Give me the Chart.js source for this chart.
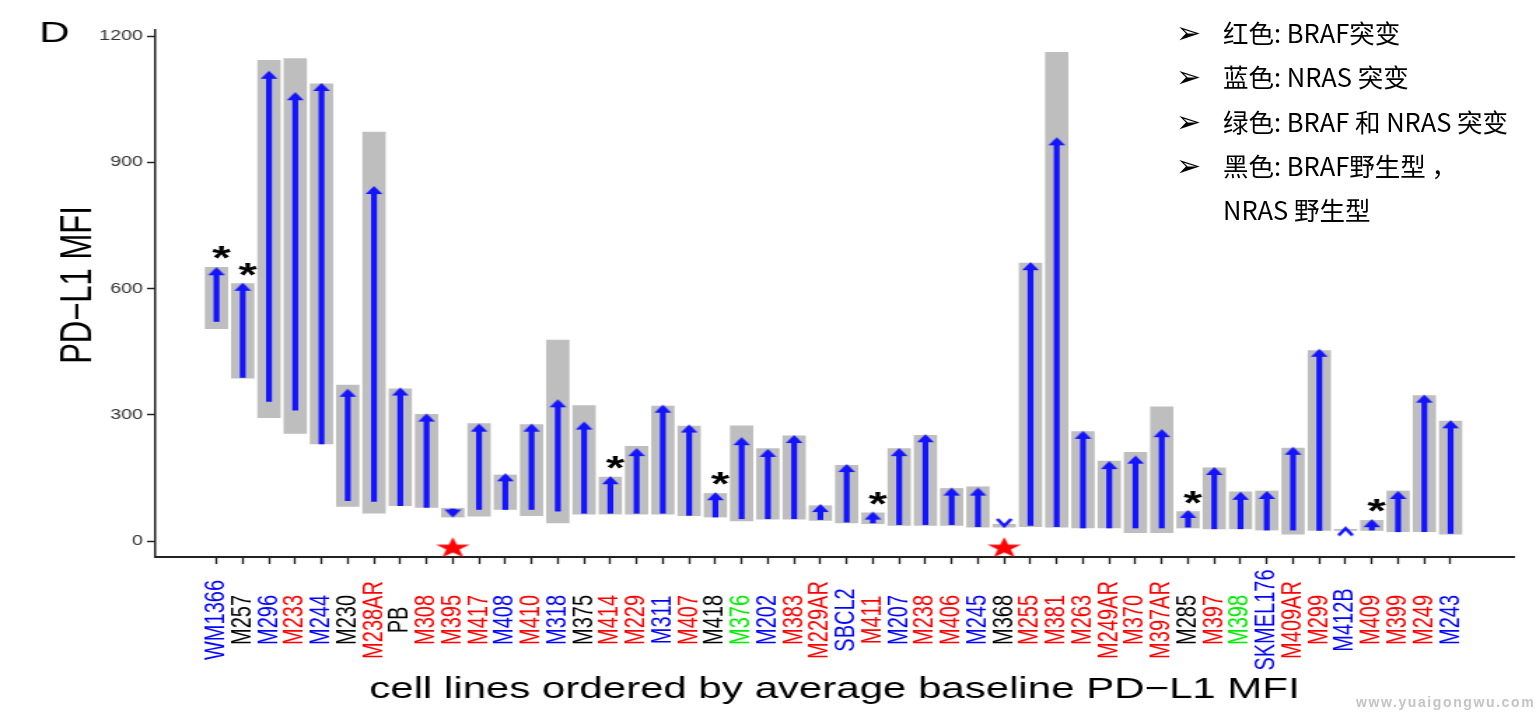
<!DOCTYPE html>
<html>
<head>
<meta charset="utf-8">
<script src="https://cdn.jsdelivr.net/npm/chart.js@4.4.1/dist/chart.umd.min.js"></script>
<style>
  html, body { margin: 0; padding: 0; background: #fff; overflow: hidden; }
  #wrap { position: relative; width: 1536px; height: 716px; }
  /* the figure is stretched horizontally in the original, so is the canvas */
  #chart { position: absolute; left: 0; top: 0; transform: scaleX(1.40018); transform-origin: 0 0; }
  .note { position: absolute; left: 1223px; font-family: "Noto Sans CJK SC", sans-serif; font-size: 25.5px; color: #000; white-space: nowrap; line-height: 30px; }
  .bullet { position: absolute; left: 1176px; font-family: "DejaVu Sans", sans-serif; font-size: 30px; color: #000; line-height: 30px; }
  #mark { position: absolute; left: 1356px; top: 694px; font: bold 14px "Liberation Sans", sans-serif; letter-spacing: 1.6px; color: #c4c4c4; }
</style>
</head>
<body>
<div id="wrap">
  <canvas id="chart" width="1097" height="716"></canvas>
  <div class="bullet" style="top:18px">➢</div><div class="note" style="top:17px">红色: BRAF突变</div>
  <div class="bullet" style="top:62px">➢</div><div class="note" style="top:61px">蓝色: NRAS 突变</div>
  <div class="bullet" style="top:107px">➢</div><div class="note" style="top:106px">绿色: BRAF 和 NRAS 突变</div>
  <div class="bullet" style="top:151px">➢</div><div class="note" style="top:150px">黑色: BRAF野生型 ，</div>
  <div class="note" style="top:194px">NRAS 野生型</div>
  <div id="mark">www.yuaigongwu.com</div>
</div>
<script>
// cell lines, left to right
const cellLines = ['WM1366', 'M257', 'M296', 'M233', 'M244', 'M230', 'M238AR', 'PB', 'M308', 'M395',
  'M417', 'M408', 'M410', 'M318', 'M375', 'M414', 'M229', 'M311', 'M407', 'M418',
  'M376', 'M202', 'M383', 'M229AR', 'SBCL2', 'M411', 'M207', 'M238', 'M406', 'M245',
  'M368', 'M255', 'M381', 'M263', 'M249AR', 'M370', 'M397AR', 'M285', 'M397', 'M398',
  'SKMEL176', 'M409AR', 'M299', 'M412B', 'M409', 'M399', 'M249', 'M243'];
const mutation = ['NRAS', 'WT', 'NRAS', 'BRAF', 'NRAS', 'WT', 'BRAF', 'WT', 'BRAF', 'BRAF',
  'BRAF', 'NRAS', 'BRAF', 'NRAS', 'WT', 'BRAF', 'BRAF', 'NRAS', 'BRAF', 'WT',
  'BOTH', 'NRAS', 'BRAF', 'BRAF', 'NRAS', 'BRAF', 'NRAS', 'BRAF', 'BRAF', 'NRAS',
  'WT', 'BRAF', 'BRAF', 'BRAF', 'BRAF', 'BRAF', 'BRAF', 'WT', 'BRAF', 'BOTH',
  'NRAS', 'BRAF', 'BRAF', 'NRAS', 'BRAF', 'BRAF', 'BRAF', 'NRAS'];
// gray range bars
const grayLow = [505, 387, 293, 256, 231, 82, 66, 84, 80, 57,
  59, 75, 60, 43, 64, 64, 64, 64, 60, 57,
  48, 52, 52, 49, 43, 41, 37, 37, 37, 33,
  33, 34, 33, 31, 31, 20, 20, 31, 29, 29,
  26, 16, 25, 25, 25, 22, 22, 16];
const grayHigh = [651, 612, 1143, 1147, 1087, 371, 972, 362, 301, 78,
  279, 157, 277, 478, 322, 152, 225, 321, 273, 113,
  274, 220, 250, 84, 180, 67, 220, 251, 125, 129,
  40, 661, 1162, 260, 190, 211, 319, 70, 174, 117,
  119, 221, 453, 28, 49, 119, 346, 285];
// blue arrows: baseline -> treated
const mfiBefore = [522, 389, 332, 311, 231, 96, 94, 84, 80, 76,
  75, 75, 75, 71, 66, 66, 66, 66, 61, 57,
  53, 53, 53, 51, 45, 43, 39, 39, 39, 34,
  50, 37, 34, 31, 31, 31, 31, 33, 29, 29,
  26, 26, 25, 14, 26, 22, 22, 18];
const mfiAfter = [651, 614, 1118, 1067, 1089, 362, 844, 365, 303, 56,
  279, 161, 279, 337, 284, 154, 221, 324, 277, 116,
  247, 219, 252, 88, 183, 70, 221, 254, 127, 127,
  36, 663, 960, 262, 190, 203, 266, 74, 176, 117,
  119, 224, 457, 30, 52, 119, 348, 287];
const yTicks = [0, 300, 600, 900, 1200];
const starCells = ['M395', 'M368'];
const starLevel = -17;
const sigCells = ['WM1366', 'M257', 'M414', 'M418', 'M411', 'M285', 'M409'];
const openHeads = ['M368', 'M412B'];

const groupColor = { BRAF: '#ff0000', NRAS: '#0000ff', BOTH: '#00ee00', WT: '#000000' };
const BLUE = '#1414ff';

// arrow heads, tip at the canvas centre
function makeHead(up, open) {
  const w = 12, h = 8;
  const c = document.createElement('canvas');
  c.width = w + 4; c.height = 2 * h + 4;
  const g = c.getContext('2d');
  const cx = c.width / 2, cy = c.height / 2;
  const by = up ? cy + h : cy - h;
  g.beginPath();
  if (open) {
    g.moveTo(cx - w / 2 + 1, up ? cy + h - 1 : cy - h + 1);
    g.lineTo(cx, cy);
    g.lineTo(cx + w / 2 - 1, up ? cy + h - 1 : cy - h + 1);
    g.strokeStyle = BLUE; g.lineWidth = 2.6; g.stroke();
  } else {
    g.moveTo(cx, cy);
    g.lineTo(cx + w / 2, by);
    g.lineTo(cx - w / 2, by);
    g.closePath();
    g.fillStyle = BLUE; g.fill();
  }
  return c;
}
const heads = {
  up: makeHead(true, false), down: makeHead(false, false),
  upOpen: makeHead(true, true), downOpen: makeHead(false, true)
};

function makeStar() {
  const c = document.createElement('canvas');
  c.width = 28; c.height = 26;
  const g = c.getContext('2d');
  g.translate(c.width / 2, c.height / 2);
  g.scale(1.15, 1);
  g.beginPath();
  for (let k = 0; k < 10; k++) {
    const r = k % 2 ? 4.3 : 11;
    const a = -Math.PI / 2 + k * Math.PI / 5;
    g.lineTo(r * Math.cos(a), r * Math.sin(a));
  }
  g.closePath();
  g.fillStyle = '#ff0000';
  g.fill();
  return c;
}
const starImg = makeStar();

const grayData = cellLines.map((_, i) => ({ x: i, y: [grayLow[i], grayHigh[i]] }));
const shaftData = [];
cellLines.forEach((_, i) => {
  const d = mfiAfter[i] - mfiBefore[i];
  if (Math.abs(d) > 19) shaftData.push({ x: i, y: [mfiBefore[i], mfiAfter[i] - Math.sign(d) * 8] });
});
const headData = cellLines.map((_, i) => ({ x: i, y: mfiAfter[i] }));
const headStyles = cellLines.map((name, i) => {
  const up = mfiAfter[i] >= mfiBefore[i];
  const open = openHeads.includes(name);
  return heads[(up ? 'up' : 'down') + (open ? 'Open' : '')];
});
const starData = starCells.map(name => ({ x: cellLines.indexOf(name), y: starLevel }));

const annotations = {
  id: 'annotations',
  afterDraw(chart) {
    const { ctx, scales: { x, y } } = chart;
    ctx.save();
    ctx.fillStyle = '#000';
    ctx.font = '30px "Liberation Sans"';
    ctx.textBaseline = 'alphabetic';
    ctx.fillText('D', 28, 42);

    ctx.save();
    ctx.translate(65, 285);
    ctx.rotate(-Math.PI / 2);
    ctx.textAlign = 'center';
    ctx.font = '31px "Liberation Sans"';
    ctx.fillText('PD−L1 MFI', 0, 0);
    ctx.restore();

    // coloured cell line names, centred under each tick
    ctx.font = '20px "Liberation Sans"';
    cellLines.forEach((name, i) => {
      ctx.save();
      ctx.translate(x.getPixelForValue(i), 620);
      ctx.rotate(-Math.PI / 2);
      ctx.textAlign = 'center';
      ctx.textBaseline = 'middle';
      ctx.fillStyle = groupColor[mutation[i]];
      ctx.fillText(name, 0, 0);
      ctx.restore();
    });

    // significance marks
    ctx.font = 'bold 34px "Liberation Sans"';
    ctx.fillStyle = '#000';
    ctx.textAlign = 'center';
    ctx.textBaseline = 'alphabetic';
    sigCells.forEach(name => {
      const i = cellLines.indexOf(name);
      ctx.fillText('*', x.getPixelForValue(i) + 3.5, y.getPixelForValue(grayHigh[i]) + 2);
    });
    ctx.restore();
  }
};

new Chart(document.getElementById('chart'), {
  type: 'bar',
  data: {
    datasets: [
      { type: 'scatter', data: starData, pointStyle: starImg, pointRadius: 5, order: 0 },
      { type: 'scatter', data: headData, pointStyle: headStyles, pointRadius: 5, order: 1 },
      { type: 'bar', data: shaftData, backgroundColor: BLUE, barThickness: 3.5, grouped: false, order: 2 },
      { type: 'bar', data: grayData, backgroundColor: '#bebebe', barThickness: 16, grouped: false, order: 3 }
    ]
  },
  options: {
    responsive: false,
    devicePixelRatio: 1,
    animation: false,
    layout: { padding: { top: 30, right: 16, left: 0, bottom: 0 } },
    plugins: { legend: { display: false }, tooltip: { enabled: false } },
    scales: {
      x: {
        type: 'linear', min: -2.325, max: 49.4, offset: false,
        afterBuildTicks: s => { s.ticks = cellLines.map((_, i) => ({ value: i })); },
        afterFit: s => { s.height = 159; },
        border: { display: true, color: '#222', width: 2 },
        grid: { offset: false, drawOnChartArea: false, drawTicks: true, tickLength: 7, tickColor: '#222', tickWidth: 1.4 },
        ticks: { display: false },
        title: {
          display: true, text: 'cell lines ordered by average baseline PD−L1 MFI',
          font: { family: 'Liberation Sans', size: 30 }, color: '#000', padding: { top: 0, bottom: 8 }
        }
      },
      y: {
        min: -38, max: 1215,
        afterBuildTicks: s => { s.ticks = yTicks.map(v => ({ value: v })); },
        afterFit: s => { s.width = 111; },
        border: { display: true, color: '#222', width: 1.5 },
        grid: { drawOnChartArea: false, drawTicks: true, tickLength: 6, tickColor: '#222', tickWidth: 1.5 },
        ticks: {
          font: { family: 'Liberation Sans', size: 14 }, color: '#333', padding: 3,
          callback: v => String(v)
        }
      }
    }
  },
  plugins: [annotations]
});
</script>
</body>
</html>
